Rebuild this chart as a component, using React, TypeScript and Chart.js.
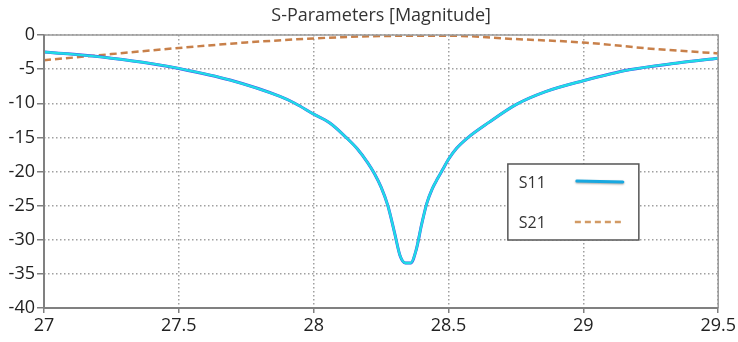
import React, { useEffect, useRef } from "react";
import { Chart, registerables } from "chart.js";

Chart.register(...registerables);

const titleText = "S-Parameters [Magnitude]";
const xTicks = [27, 27.5, 28, 28.5, 29, 29.5];
const yTicks = [0, -5, -10, -15, -20, -25, -30, -35, -40];

const s11Freq = [27.0, 27.1, 27.25, 27.4, 27.5, 27.69, 27.875, 27.93, 28.0, 28.06, 28.12, 28.16, 28.2, 28.225, 28.25, 28.275, 28.3, 28.32, 28.34, 28.36, 28.38, 28.4, 28.42, 28.44, 28.46, 28.48, 28.5, 28.53, 28.57, 28.65, 28.75, 28.86, 29.0, 29.17, 29.35, 29.5];
const s11Mag = [-2.5, -2.8, -3.4, -4.2, -4.9, -6.6, -9.0, -10.0, -11.6, -12.9, -15.0, -16.6, -18.7, -20.3, -22.3, -25.0, -29.0, -32.3, -33.4, -33.4, -31.5, -27.8, -24.6, -22.5, -21.0, -19.6, -18.2, -16.6, -15.1, -12.8, -10.2, -8.3, -6.7, -5.1, -4.1, -3.4];

const s21Freq = [27.0, 27.25, 27.5, 27.75, 28.0, 28.25, 28.5, 28.75, 29.0, 29.25, 29.5];
const s21Mag = [-3.7, -2.8, -1.9, -1.1, -0.5, -0.15, -0.1, -0.6, -1.1, -2.0, -2.7];

const legendLabels = ["S11", "S21"];

const FONT = "'Open Sans', 'Noto Sans', sans-serif";

const framePlugin = {
  id: "frame",
  afterDraw(chart: any) {
    const { ctx, chartArea } = chart;
    const { left, top, right, bottom } = chartArea;
    ctx.save();
    ctx.strokeStyle = "#9a9a9a";
    ctx.lineWidth = 1.5;
    ctx.beginPath();
    ctx.moveTo(left, top);
    ctx.lineTo(right, top);
    ctx.lineTo(right, bottom);
    ctx.stroke();
    ctx.strokeStyle = "#808080";
    ctx.lineWidth = 2;
    ctx.beginPath();
    ctx.moveTo(left, top);
    ctx.lineTo(left, bottom);
    ctx.lineTo(right, bottom);
    ctx.stroke();

    // legend box
    const x = chart.scales.x;
    const y = chart.scales.y;
    const bx = x.getPixelForValue(28.72);
    const by = y.getPixelForValue(-18.9);
    const bw = 131;
    const bh = 76;
    ctx.fillStyle = "#ffffff";
    ctx.fillRect(bx, by, bw, bh);
    ctx.strokeStyle = "#555555";
    ctx.lineWidth = 1.5;
    ctx.strokeRect(bx, by, bw, bh);
    ctx.fillStyle = "#333333";
    ctx.font = `16px ${FONT}`;
    ctx.textBaseline = "middle";
    ctx.textAlign = "left";
    ctx.fillText(legendLabels[0], bx + 11, by + 19);
    ctx.fillText(legendLabels[1], bx + 11, by + 59);
    ctx.lineCap = "round";
    ctx.shadowColor = "rgba(0,0,0,0.35)";
    ctx.shadowBlur = 2;
    ctx.shadowOffsetY = 1;
    ctx.strokeStyle = "#18a8e0";
    ctx.lineWidth = 3;
    ctx.beginPath();
    ctx.moveTo(bx + 69, by + 17);
    ctx.lineTo(bx + 115, by + 18);
    ctx.stroke();
    ctx.shadowColor = "transparent";
    ctx.lineCap = "butt";
    ctx.strokeStyle = "#d29a64";
    ctx.lineWidth = 2.5;
    ctx.setLineDash([6, 4]);
    ctx.beginPath();
    ctx.moveTo(bx + 67, by + 58);
    ctx.lineTo(bx + 115, by + 58);
    ctx.stroke();
    ctx.restore();
  },
};

export default function App() {
  const ref = useRef<HTMLCanvasElement>(null);
  useEffect(() => {
    if (!ref.current) return;
    const mkS11 = () => s11Freq.map((f, i) => ({ x: f, y: s11Mag[i] }));
    const s21 = s21Freq.map((f, i) => ({ x: f, y: s21Mag[i] }));
    const chart = new Chart(ref.current, {
      type: "line",
      data: {
        datasets: [
          {
            label: "S21",
            data: s21,
            borderColor: "#c8804a",
            borderWidth: 2.5,
            borderDash: [7, 4],
            pointRadius: 0,
            cubicInterpolationMode: "monotone",
            order: 3,
          },
          {
            label: "S11 base",
            data: mkS11(),
            borderColor: "#4a50e8",
            borderWidth: 3.0,
            pointRadius: 0,
            cubicInterpolationMode: "monotone",
            order: 2,
          },
          {
            label: "S11",
            data: mkS11(),
            borderColor: "#20dbe6",
            borderWidth: 2.4,
            pointRadius: 0,
            cubicInterpolationMode: "monotone",
            order: 1,
          },
        ],
      },
      options: {
        animation: false,
        responsive: false,
        maintainAspectRatio: false,
        layout: { padding: { left: 0, right: 19, top: 0, bottom: 0 } },
        plugins: {
          legend: { display: false },
          tooltip: { enabled: false },
          title: {
            display: true,
            fullSize: false,
            text: titleText,
            color: "#333333",
            font: { family: FONT, size: 18, weight: "normal", lineHeight: 1.2 },
            padding: { top: 5, bottom: 8.4 },
          },
        },
        scales: {
          x: {
            type: "linear",
            min: 27,
            max: 29.5,
            afterBuildTicks: (s: any) => {
              s.ticks = xTicks.map((v) => ({ value: v }));
            },
            afterFit: (s: any) => {
              s.height = 34;
            },
            ticks: {
              color: "#222222",
              font: { family: FONT, size: 18 },
              padding: 2,
              maxRotation: 0,
              callback: (v: any) => String(v),
            },
            grid: {
              color: "#a0a0a0",
              lineWidth: 1.5,
              drawTicks: true,
              tickLength: 5,
              tickColor: "#808080",
            },
            border: { display: false, dash: [1.5, 2.5] },
          },
          y: {
            type: "linear",
            min: -40,
            max: 0,
            afterBuildTicks: (s: any) => {
              s.ticks = yTicks.map((v) => ({ value: v }));
            },
            afterFit: (s: any) => {
              s.width = 44;
            },
            ticks: {
              color: "#222222",
              font: { family: FONT, size: 18 },
              padding: 2,
              callback: (v: any) => String(v),
            },
            grid: {
              color: "#a0a0a0",
              lineWidth: 1.5,
              drawTicks: true,
              tickLength: 7,
              tickColor: "#808080",
            },
            border: { display: false, dash: [1.5, 2.5] },
          },
        },
      },
      plugins: [framePlugin],
    });
    return () => chart.destroy();
  }, []);
  return (
    <div style={{ position: "absolute", left: 0, top: 0, width: 738, height: 342, background: "#fff" }}>
      <canvas ref={ref} width={738} height={342} style={{ display: "block" }} />
    </div>
  );
}
